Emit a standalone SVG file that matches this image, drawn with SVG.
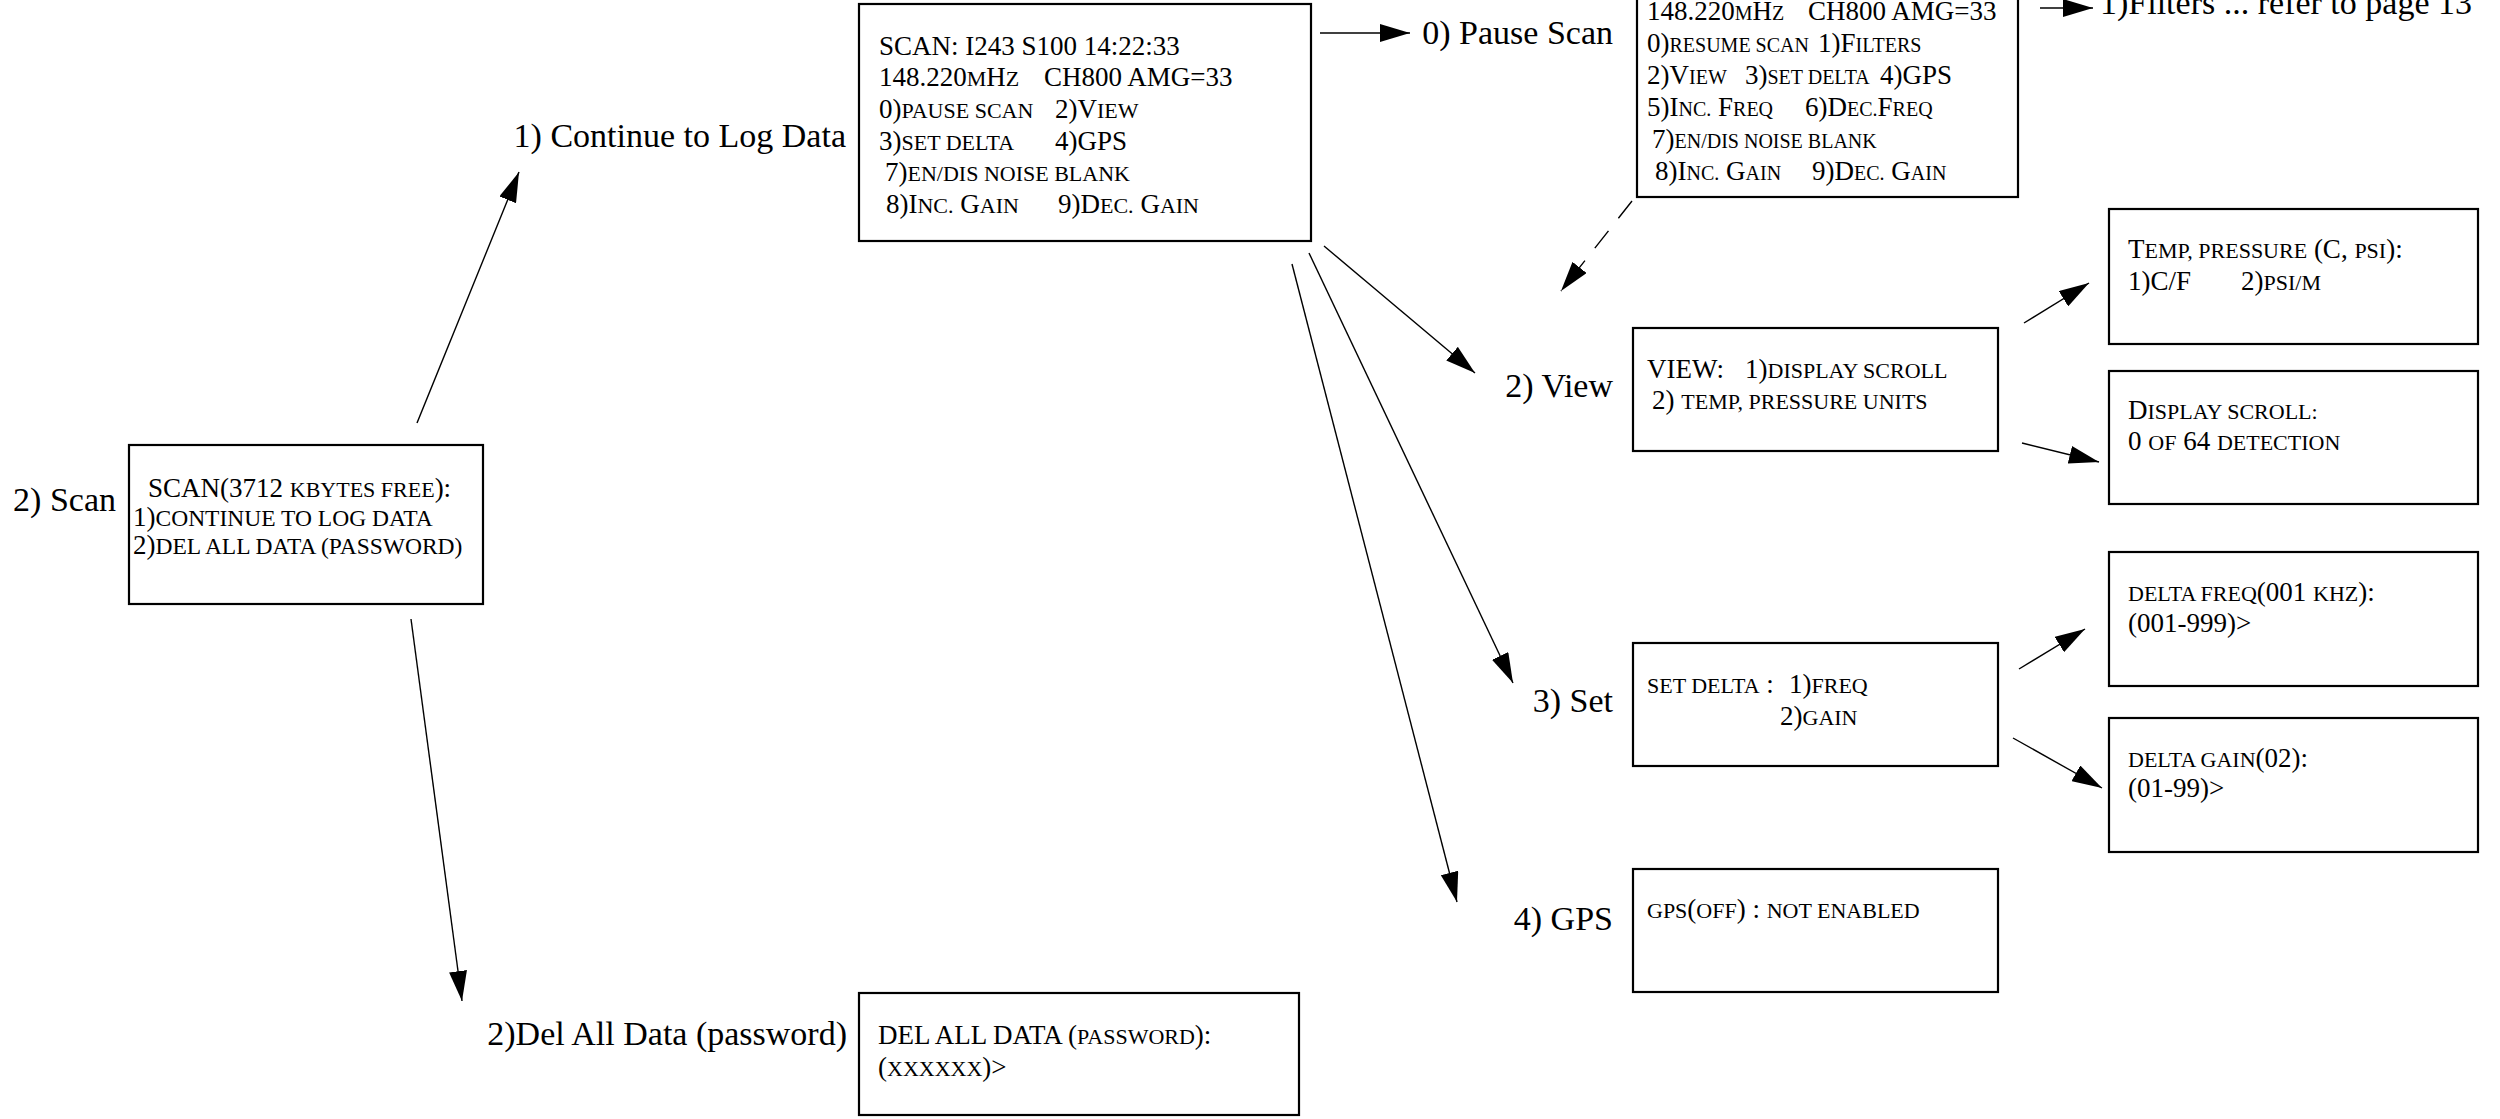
<svg xmlns="http://www.w3.org/2000/svg" width="2500" height="1119" viewBox="0 0 2500 1119">
<style>
.bg{fill:#fff}
.box{fill:none;stroke:#000;stroke-width:2.2}
.t{font-family:"Liberation Serif","Times New Roman",serif;font-size:27px;fill:#000}
.sc{font-size:22px}
.sc2{font-size:23.5px}
.sc3{font-size:20px}
.lbl{font-family:"Liberation Serif","Times New Roman",serif;font-size:34px;fill:#000;text-anchor:end}
.lbs{font-family:"Liberation Serif","Times New Roman",serif;font-size:34px;fill:#000}
.c{stroke:#000;stroke-width:1.4;fill:none;marker-end:url(#ah)}
.dash{stroke-dasharray:22 16}
</style>
<defs>
<marker id="ah" markerUnits="userSpaceOnUse" markerWidth="30" markerHeight="18" refX="30" refY="9" orient="auto">
<path d="M0,0 L30,9 L0,18 z" fill="#000"/>
</marker>
</defs>
<rect class="bg" x="0" y="0" width="2500" height="1119"/>

<g id="connectors">
<line class="c" x1="417" y1="423" x2="519" y2="172"/>
<line class="c" x1="411" y1="619" x2="462" y2="1001"/>
<line class="c" x1="1320" y1="33" x2="1410" y2="33"/>
<line class="c" x1="2040" y1="8" x2="2093" y2="8"/>
<line class="c dash" x1="1632" y1="201" x2="1561" y2="291"/>
<line class="c" x1="1324" y1="246" x2="1475" y2="373"/>
<line class="c" x1="1309" y1="253" x2="1513" y2="683"/>
<line class="c" x1="1292" y1="264" x2="1457" y2="902"/>
<line class="c" x1="2024" y1="323" x2="2089" y2="283"/>
<line class="c" x1="2022" y1="443" x2="2099" y2="462"/>
<line class="c" x1="2019" y1="669" x2="2085" y2="629"/>
<line class="c" x1="2013" y1="738" x2="2102" y2="788"/>
</g>

<g id="scan">
<text class="lbl" x="116" y="511">2) Scan</text>
<rect class="box" x="129" y="445" width="354" height="159"/>
<text class="t" x="148" y="497">SCAN(3712 <tspan class="sc">KBYTES FREE</tspan>):</text>
<text class="t" x="133" y="526">1)<tspan class="sc2">CONTINUE TO LOG DATA</tspan></text>
<text class="t" x="133" y="554">2)<tspan class="sc2">DEL ALL DATA (PASSWORD)</tspan></text>
</g>

<g id="continue">
<text class="lbl" x="846" y="147">1) Continue to Log Data</text>
<rect class="box" x="859" y="4" width="452" height="237"/>
<text class="t" x="879" y="55">SCAN: I243 S100 14:22:33</text>
<text class="t" x="879" y="86">148.220<tspan class="sc">M</tspan>H<tspan class="sc">Z</tspan><tspan x="1044">CH800 AMG=33</tspan></text>
<text class="t" x="879" y="118">0)<tspan class="sc">PAUSE SCAN</tspan><tspan x="1055">2)V</tspan><tspan class="sc">IEW</tspan></text>
<text class="t" x="879" y="150">3)<tspan class="sc">SET DELTA</tspan><tspan x="1055">4)GPS</tspan></text>
<text class="t" x="885" y="181">7)<tspan class="sc">EN/DIS NOISE BLANK</tspan></text>
<text class="t" x="886" y="213">8)I<tspan class="sc">NC.</tspan> G<tspan class="sc">AIN</tspan><tspan x="1058">9)D</tspan><tspan class="sc">EC.</tspan> G<tspan class="sc">AIN</tspan></text>
</g>

<g id="pause">
<text class="lbl" x="1613" y="44">0) Pause Scan</text>
<rect class="box" x="1637" y="-40" width="381" height="237"/>
<text class="t" x="1647" y="20">148.220<tspan class="sc3">M</tspan>H<tspan class="sc3">Z</tspan><tspan x="1808">CH800 AMG=33</tspan></text>
<text class="t" x="1647" y="52">0)<tspan class="sc3">RESUME SCAN</tspan><tspan x="1818">1)F</tspan><tspan class="sc3">ILTERS</tspan></text>
<text class="t" x="1647" y="84">2)V<tspan class="sc3">IEW</tspan><tspan x="1745">3)</tspan><tspan class="sc3">SET DELTA</tspan><tspan x="1880">4)GPS</tspan></text>
<text class="t" x="1647" y="116">5)I<tspan class="sc3">NC.</tspan> F<tspan class="sc3">REQ</tspan><tspan x="1805">6)D</tspan><tspan class="sc3">EC.</tspan>F<tspan class="sc3">REQ</tspan></text>
<text class="t" x="1652" y="148">7)<tspan class="sc3">EN/DIS NOISE BLANK</tspan></text>
<text class="t" x="1655" y="180">8)I<tspan class="sc3">NC.</tspan> G<tspan class="sc3">AIN</tspan><tspan x="1812">9)D</tspan><tspan class="sc3">EC.</tspan> G<tspan class="sc3">AIN</tspan></text>
</g>

<g id="filters">
<text class="lbs" x="2100" y="14">1)Filters ... refer to page 13</text>
</g>

<g id="view">
<text class="lbl" x="1613" y="397">2) View</text>
<rect class="box" x="1633" y="328" width="365" height="123"/>
<text class="t" x="1647" y="378">VIEW:<tspan x="1745">1)</tspan><tspan class="sc">DISPLAY SCROLL</tspan></text>
<text class="t" x="1652" y="409">2) <tspan class="sc">TEMP, PRESSURE UNITS</tspan></text>
</g>

<g id="temp">
<rect class="box" x="2109" y="209" width="369" height="135"/>
<text class="t" x="2128" y="258">T<tspan class="sc">EMP, PRESSURE</tspan> (C, <tspan class="sc">PSI</tspan>):</text>
<text class="t" x="2128" y="290">1)C/F<tspan x="2241">2)</tspan><tspan class="sc">PSI/M</tspan></text>
</g>

<g id="display">
<rect class="box" x="2109" y="371" width="369" height="133"/>
<text class="t" x="2128" y="419">D<tspan class="sc">ISPLAY SCROLL:</tspan></text>
<text class="t" x="2128" y="450">0 <tspan class="sc">OF</tspan> 64 <tspan class="sc">DETECTION</tspan></text>
</g>

<g id="set">
<text class="lbl" x="1613" y="712">3) Set</text>
<rect class="box" x="1633" y="643" width="365" height="123"/>
<text class="t" x="1647" y="693"><tspan class="sc">SET DELTA</tspan> :<tspan x="1789">1)</tspan><tspan class="sc">FREQ</tspan></text>
<text class="t" x="1780" y="725">2)<tspan class="sc">GAIN</tspan></text>
</g>

<g id="freq">
<rect class="box" x="2109" y="552" width="369" height="134"/>
<text class="t" x="2128" y="601"><tspan class="sc">DELTA FREQ</tspan>(001 <tspan class="sc">KHZ</tspan>):</text>
<text class="t" x="2128" y="632">(001-999)&gt;</text>
</g>

<g id="gain">
<rect class="box" x="2109" y="718" width="369" height="134"/>
<text class="t" x="2128" y="767"><tspan class="sc">DELTA GAIN</tspan>(02):</text>
<text class="t" x="2128" y="797">(01-99)&gt;</text>
</g>

<g id="gps">
<text class="lbl" x="1613" y="930">4) GPS</text>
<rect class="box" x="1633" y="869" width="365" height="123"/>
<text class="t" x="1647" y="918"><tspan class="sc">GPS</tspan>(<tspan class="sc">OFF</tspan>) : <tspan class="sc">NOT ENABLED</tspan></text>
</g>

<g id="del">
<text class="lbl" x="847" y="1045">2)Del All Data (password)</text>
<rect class="box" x="859" y="993" width="440" height="122"/>
<text class="t" x="878" y="1044">DEL ALL DATA (<tspan class="sc">PASSWORD</tspan>):</text>
<text class="t" x="878" y="1076">(<tspan class="sc">XXXXXX</tspan>)&gt;</text>
</g>
</svg>
